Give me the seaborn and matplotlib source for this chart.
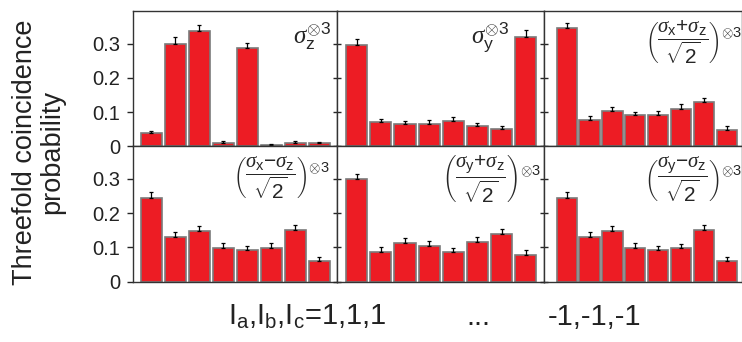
import numpy as np
import pandas as pd
import matplotlib
matplotlib.use('Agg')
import matplotlib.pyplot as plt
import seaborn as sns

# =====================================
# DATA
# =====================================

outcomes = list(range(8))

p_zzz = [0.039, 0.300, 0.336, 0.010, 0.286, 0.005, 0.010, 0.009]
e_zzz = [0.005, 0.018, 0.018, 0.006, 0.017, 0.002, 0.004, 0.004]

p_yyy = [0.295, 0.070, 0.064, 0.066, 0.075, 0.058, 0.049, 0.318]
e_yyy = [0.017, 0.010, 0.011, 0.011, 0.010, 0.011, 0.011, 0.021]

p_xpz = [0.344, 0.077, 0.104, 0.090, 0.092, 0.110, 0.129, 0.048]
e_xpz = [0.015, 0.011, 0.012, 0.011, 0.010, 0.012, 0.012, 0.010]

p_xmz = [0.243, 0.131, 0.147, 0.099, 0.091, 0.097, 0.150, 0.060]
e_xmz = [0.017, 0.014, 0.015, 0.014, 0.012, 0.014, 0.016, 0.012]

p_ypz = [0.298, 0.087, 0.111, 0.103, 0.085, 0.114, 0.138, 0.076]
e_ypz = [0.017, 0.014, 0.015, 0.016, 0.013, 0.015, 0.016, 0.015]

p_ymz = [0.243, 0.131, 0.147, 0.098, 0.091, 0.097, 0.150, 0.060]
e_ymz = [0.017, 0.014, 0.015, 0.014, 0.012, 0.013, 0.015, 0.012]

panel_labels = [
    r'$\sigma_{\mathrm{z}}^{\otimes \mathrm{3}}$',
    r'$\sigma_{\mathrm{y}}^{\otimes \mathrm{3}}$',
    r'$\left(\dfrac{\sigma_{\mathrm{x}}\mathrm{+}\sigma_{\mathrm{z}}}{\sqrt{\mathrm{2}}}\right)^{\otimes \mathrm{3}}$',
    r'$\left(\dfrac{\sigma_{\mathrm{x}}\mathrm{-}\sigma_{\mathrm{z}}}{\sqrt{\mathrm{2}}}\right)^{\otimes \mathrm{3}}$',
    r'$\left(\dfrac{\sigma_{\mathrm{y}}\mathrm{+}\sigma_{\mathrm{z}}}{\sqrt{\mathrm{2}}}\right)^{\otimes \mathrm{3}}$',
    r'$\left(\dfrac{\sigma_{\mathrm{y}}\mathrm{-}\sigma_{\mathrm{z}}}{\sqrt{\mathrm{2}}}\right)^{\otimes \mathrm{3}}$',
]

y_ticks = [0, 0.1, 0.2, 0.3]
y_tick_labels = ['0', '0.1', '0.2', '0.3']

probs = [p_zzz, p_yyy, p_xpz, p_xmz, p_ypz, p_ymz]
errs = [e_zzz, e_yyy, e_xpz, e_xmz, e_ypz, e_ymz]

# =====================================
# STYLE
# =====================================

sns.set_style('ticks')
plt.rcParams['font.family'] = ['Liberation Sans', 'DejaVu Sans']
plt.rcParams['mathtext.fontset'] = 'custom'
plt.rcParams['mathtext.rm'] = 'Liberation Sans'
plt.rcParams['mathtext.it'] = 'Liberation Serif:italic'
plt.rcParams['mathtext.bf'] = 'Liberation Sans:bold'

bar_red = '#ED1C24'
edge_gray = '#7a7a7a'

fig = plt.figure(figsize=(7.42, 3.42), dpi=100)
gs = fig.add_gridspec(
    2, 3,
    left=133/742, right=1.0,
    bottom=1 - 281.5/342, top=1 - 11/342,
    width_ratios=[204, 206, 198],
    wspace=0, hspace=0
)

x_limits = [(-0.77, 7.75), (-0.80, 7.74), (-1.0, 7.65)]

# label anchor (right, top) in axes fraction
label_pos = [(0.97, 0.93), (0.83, 0.93), (1.0, 0.95),
             (0.965, 0.94), (0.985, 0.94), (1.0, 0.94)]

for i in range(6):
    r, c = divmod(i, 3)
    ax = fig.add_subplot(gs[r, c])

    df = pd.DataFrame({'outcome': outcomes, 'p': probs[i]})
    sns.barplot(
        data=df, x='outcome', y='p',
        color=bar_red, saturation=1,
        edgecolor=edge_gray, linewidth=1.2,
        width=0.88, errorbar=None, ax=ax
    )
    ax.errorbar(
        outcomes, probs[i],
        yerr=[np.zeros(8), errs[i]],
        fmt='none', ecolor='black',
        elinewidth=0.9, capsize=1.6, capthick=0.9
    )

    ax.set_xlim(*x_limits[c])
    ax.set_ylim(0, 0.395)
    ax.set_xlabel('')
    ax.set_ylabel('')
    ax.set_xticks([])
    ax.set_yticks(y_ticks)

    for s in ax.spines.values():
        s.set_visible(True)
        s.set_color('#333333')
        s.set_linewidth(1.0)

    if c == 0:
        ax.set_yticklabels(y_tick_labels, fontsize=14.5, color='#222222')
        ax.tick_params(axis='y', direction='out', length=4, width=1, pad=5)
    else:
        ax.set_yticklabels([])
        ax.tick_params(axis='y', direction='inout', length=6, width=1)

    fs = 18 if i < 2 else 15
    ax.text(label_pos[i][0], label_pos[i][1], panel_labels[i],
            transform=ax.transAxes, ha='right', va='top', fontsize=fs)

# =====================================
# LABELS
# =====================================

fig.text(0.052, 0.556, 'Threefold coincidence\nprobability',
         rotation=90, ha='center', va='center', multialignment='center',
         fontsize=19.5, color='#222222', linespacing=1.05)

fig.text(228/742, 1 - 325/342,
         r'I$_{\mathrm{a}}$,I$_{\mathrm{b}}$,I$_{\mathrm{c}}$=1,1,1',
         ha='left', va='baseline', fontsize=21, color='#222222')
fig.text(478/742, 1 - 325/342, '...',
         ha='center', va='baseline', fontsize=21, color='#222222')
fig.text(548/742, 1 - 325/342, '-1,-1,-1',
         ha='left', va='baseline', fontsize=21, color='#222222')

plt.savefig('out.png', dpi=100)
